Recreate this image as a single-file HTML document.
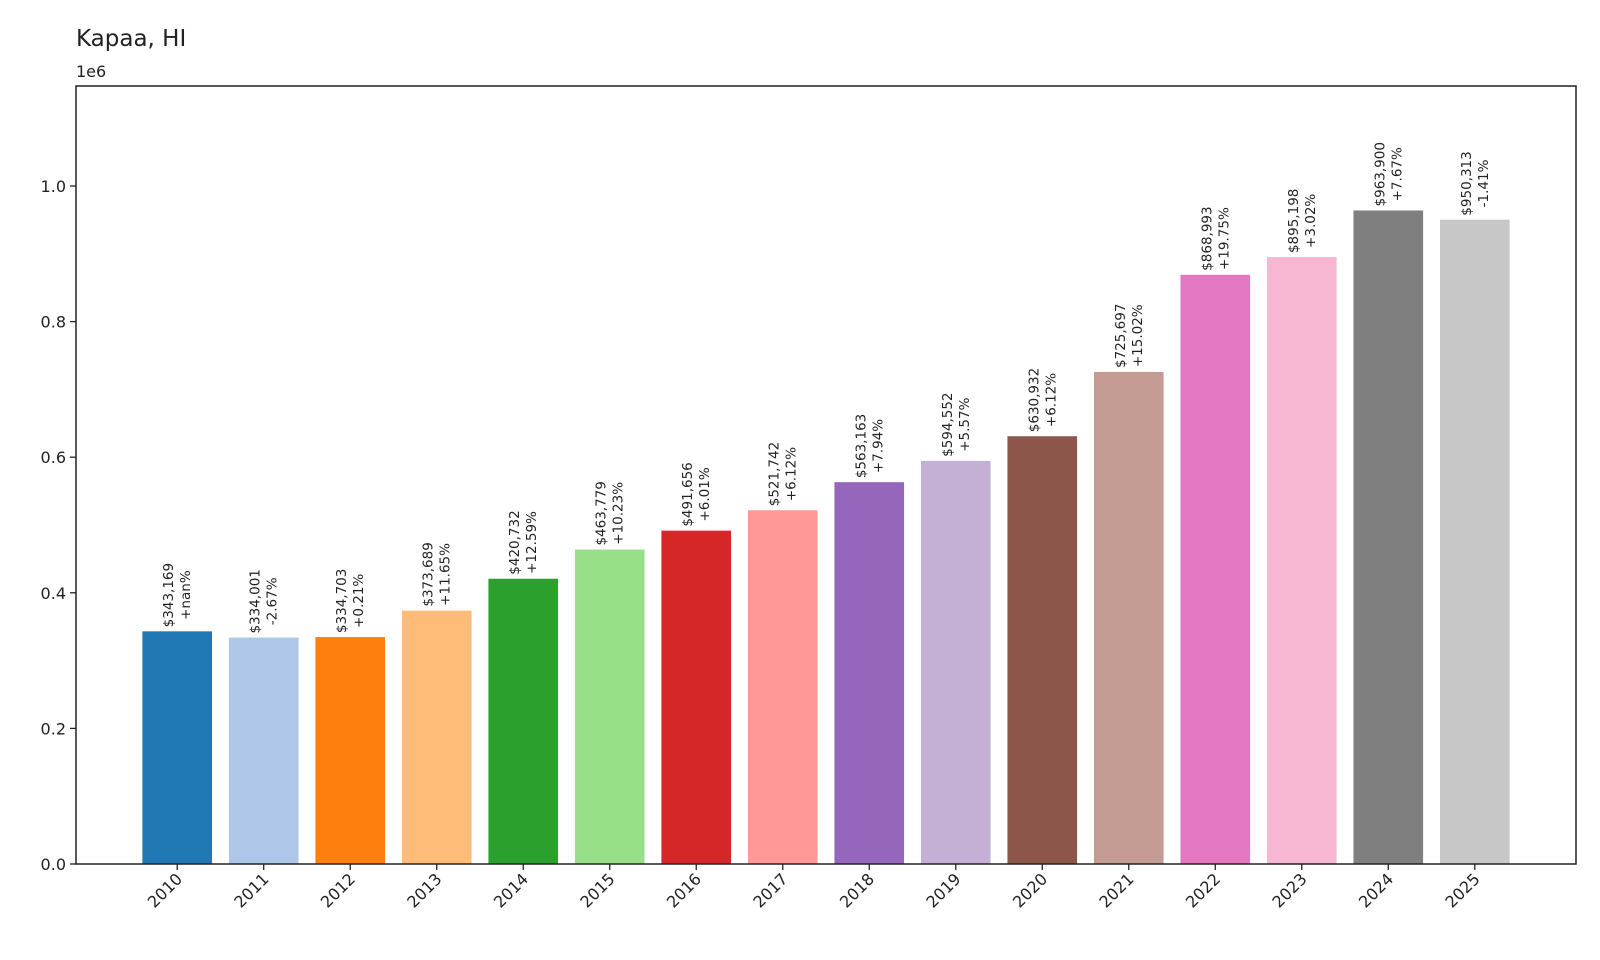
<!DOCTYPE html>
<html><head><meta charset="utf-8"><style>
html,body{margin:0;padding:0;background:#fff;}
svg{display:block;font-family:"DejaVu Sans","Liberation Sans",sans-serif;}
</style></head><body>
<svg id="chart" width="1600" height="960" xmlns="http://www.w3.org/2000/svg">
<rect width="1600" height="960" fill="#fff"/>
<text x="76" y="46" font-size="23" fill="#222">Kapaa, HI</text>
<text x="76" y="77" font-size="16" fill="#222">1e6</text>
<g id="bars"></g>
<g id="yticks"></g>
<g id="xticks"></g>
<rect x="76" y="86" width="1500" height="778" fill="none" stroke="#222" stroke-width="1.5"/>
</svg>
<script>
const years = ["2010","2011","2012","2013","2014","2015","2016","2017","2018","2019","2020","2021","2022","2023","2024","2025"];
const values = [343169,334001,334703,373689,420732,463779,491656,521742,563163,594552,630932,725697,868993,895198,963900,950313];
const changes = ["+nan%","-2.67%","+0.21%","+11.65%","+12.59%","+10.23%","+6.01%","+6.12%","+7.94%","+5.57%","+6.12%","+15.02%","+19.75%","+3.02%","+7.67%","-1.41%"];
const colors = ["#1f77b4","#aec7e8","#ff7f0e","#ffbb78","#2ca02c","#98df8a","#d62728","#ff9896","#9467bd","#c5b0d5","#8c564b","#c49c94","#e377c2","#f7b6d2","#7f7f7f","#c7c7c7"];
const yTicks = [0,0.2,0.4,0.6,0.8,1.0];
const yTickLabels = ["0.0","0.2","0.4","0.6","0.8","1.0"];

const NS="http://www.w3.org/2000/svg";
const L=76,R=1576,T=86,B=864;
const xMin=-1.17,xMax=years.length-1+1.17;
const yMax=(B-T)/678*1e6;
function xs(i){return L+(i-xMin)/(xMax-xMin)*(R-L);}
function ys(v){return B-v/yMax*(B-T);}
const bw=0.805*(xs(1)-xs(0));
const bars=document.getElementById('bars');
years.forEach((yr,i)=>{
  const r=document.createElementNS(NS,'rect');
  
  
  const top=ys(values[i]);
  r.setAttribute('x',xs(i)-bw/2);r.setAttribute('y',top);
  r.setAttribute('width',bw);r.setAttribute('height',B-top);
  r.setAttribute('fill',colors[i]);
  bars.appendChild(r);
  const t=document.createElementNS(NS,'text');
  
  
  t.setAttribute('font-size','13.5');
  t.setAttribute('fill','#222');
  t.setAttribute('text-anchor','middle');
  const s1=document.createElementNS(NS,'tspan');
  s1.textContent='$'+values[i].toLocaleString('en-US');
  const s2=document.createElementNS(NS,'tspan');
  s2.textContent=changes[i];
  t.appendChild(s1);t.appendChild(s2);
  bars.appendChild(t);
  const len=s1.getComputedTextLength()||70;
  const cx=-(top-4-len/2);
  s1.setAttribute('x',cx);s1.setAttribute('y',-4);
  s2.setAttribute('x',cx);s2.setAttribute('y',13);
  t.setAttribute('transform','translate('+xs(i)+',0) rotate(-90)');
  // x tick
  const g=document.getElementById('xticks');
  const tk=document.createElementNS(NS,'line');
  
  
  tk.setAttribute('x1',xs(i));tk.setAttribute('x2',xs(i));
  tk.setAttribute('y1',B);tk.setAttribute('y2',B+6);
  tk.setAttribute('stroke','#222');tk.setAttribute('stroke-width','1.3');
  g.appendChild(tk);
  const lb=document.createElementNS(NS,'text');
  
  
  lb.setAttribute('font-size','16');lb.setAttribute('fill','#222');
  lb.setAttribute('text-anchor','end');
  lb.setAttribute('transform','translate('+(xs(i)+6)+','+(B+16)+') rotate(-45)');
  lb.textContent=yr;
  g.appendChild(lb);
});
const yg=document.getElementById('yticks');
yTicks.forEach((v,k)=>{
  const tk=document.createElementNS(NS,'line');
  
  
  tk.setAttribute('x1',L-6);tk.setAttribute('x2',L);
  tk.setAttribute('y1',ys(v*1e6));tk.setAttribute('y2',ys(v*1e6));
  tk.setAttribute('stroke','#222');tk.setAttribute('stroke-width','1.3');
  yg.appendChild(tk);
  const lb=document.createElementNS(NS,'text');
  
  
  lb.setAttribute('font-size','16');lb.setAttribute('fill','#222');
  lb.setAttribute('text-anchor','end');
  lb.setAttribute('x',L-10);lb.setAttribute('y',ys(v*1e6)+6);
  lb.textContent=yTickLabels[k];
  yg.appendChild(lb);
});
</script>
</body></html>
